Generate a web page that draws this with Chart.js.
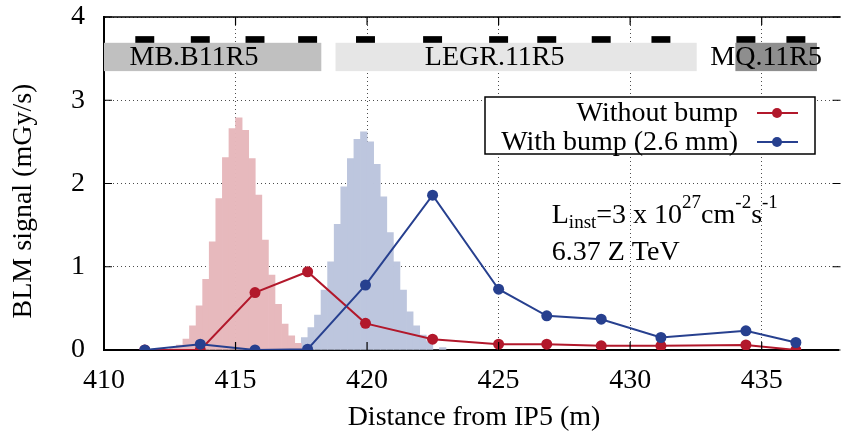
<!DOCTYPE html>
<html>
<head>
<meta charset="utf-8">
<script src="https://cdn.jsdelivr.net/npm/chart.js@4.4.1/dist/chart.umd.min.js"></script>
<style>
  html, body { margin: 0; padding: 0; background: #fff; }
  #wrap { width: 844px; height: 434px; }
</style>
</head>
<body>
<div id="wrap"><canvas id="blmChart"></canvas></div>
<script>
// BLM positions along the ring (m) and measured signals (mGy/s)
const blmPos   = [411.55, 413.66, 415.74, 417.74, 419.94, 422.49, 425.0, 426.83, 428.9, 431.17, 434.4, 436.3];
const noBump   = [0, 0, 0.69, 0.94, 0.32, 0.13, 0.07, 0.07, 0.05, 0.05, 0.06, 0];
const withBump = [0, 0.07, 0, 0.01, 0.78, 1.86, 0.73, 0.41, 0.37, 0.15, 0.23, 0.09];

// impact distributions (bin centres in m, 0.25 m bins)
const histNoBumpX = [412.625, 412.875, 413.125, 413.375, 413.625, 413.875, 414.125, 414.375, 414.625, 414.875,
                     415.125, 415.375, 415.625, 415.875, 416.125, 416.375, 416.625, 416.875, 417.125, 417.375];
const histNoBumpY = [0.03, 0.06, 0.13, 0.29, 0.53, 0.85, 1.30, 1.82, 2.31, 2.66,
                     2.79, 2.64, 2.30, 1.86, 1.32, 0.90, 0.55, 0.31, 0.17, 0.08];
const histBumpX = [417.375, 417.625, 417.875, 418.125, 418.375, 418.625, 418.875, 419.125, 419.375, 419.625,
                   419.875, 420.125, 420.375, 420.625, 420.875, 421.125, 421.375, 421.625, 421.875, 422.125,
                   422.375, 422.625, 422.875];
const histBumpY = [0.07, 0.15, 0.27, 0.42, 0.72, 1.06, 1.51, 1.96, 2.30, 2.53,
                   2.62, 2.50, 2.23, 1.84, 1.41, 1.06, 0.72, 0.46, 0.29, 0.18,
                   0.10, 0, 0.03];

// magnet elements (m)
const elemNames = ['MB.B11R5', 'LEGR.11R5', 'MQ.11R5'];
const elemStart = [408.5, 418.8, 434.0];
const elemEnd   = [418.26, 432.53, 437.1];

const xTicks = [410, 415, 420, 425, 430, 435];
const yTicks = [0, 1, 2, 3, 4];

const FONT = '"Liberation Serif", "Times New Roman", serif';
const RED = '#b2182b';
const BLUE = '#27408f';

const pts = (xs, ys) => xs.map((x, i) => ({ x: x, y: ys[i] }));

function noPadding(s) {
    s.paddingTop = 0; s.paddingBottom = 0;
    s.paddingLeft = 0; s.paddingRight = 0;
}

// gnuplot-like frame, inward ticks, element boxes, legend and label
const decorations = {
    id: 'decorations',
    afterDraw(chart) {
        const ctx = chart.ctx;
        const a = chart.chartArea;
        const xs = chart.scales.x, ys = chart.scales.y;
        const right = a.right + 2;  // right frame sits just past the canvas edge

        // magnet boxes + BLM markers
        ctx.save();
        ctx.beginPath();
        ctx.rect(a.left, a.top, a.right - a.left, a.bottom - a.top);
        ctx.clip();
        const boxColors = ['#c0c0c0', '#e6e6e6', '#8e8e8e'];
        const labelAt = [413.42, 424.85, 435.17];
        const y1 = ys.getPixelForValue(3.69), y2 = ys.getPixelForValue(3.35);
        elemNames.forEach((name, i) => {
            const x1 = xs.getPixelForValue(elemStart[i]);
            const x2 = xs.getPixelForValue(elemEnd[i]);
            ctx.fillStyle = boxColors[i];
            ctx.fillRect(x1, y1, x2 - x1, y2 - y1);
        });
        ctx.fillStyle = '#000';
        const d1 = ys.getPixelForValue(3.77);
        blmPos.forEach(p => {
            const x1 = xs.getPixelForValue(p - 0.36);
            const x2 = xs.getPixelForValue(p + 0.36);
            ctx.fillRect(x1, d1, x2 - x1, y1 - d1);
        });
        ctx.restore();

        ctx.save();
        ctx.fillStyle = '#000';
        ctx.font = '28px ' + FONT;
        ctx.textAlign = 'center';
        ctx.textBaseline = 'alphabetic';
        elemNames.forEach((name, i) => {
            ctx.fillText(name, xs.getPixelForValue(labelAt[i]), y2 - 6);
        });
        ctx.restore();

        // frame
        ctx.save();
        ctx.strokeStyle = '#000';
        ctx.lineWidth = 1.5;
        ctx.beginPath();
        ctx.moveTo(a.left, a.top);
        ctx.lineTo(right, a.top);
        ctx.stroke();
        ctx.lineWidth = 1.2;
        ctx.beginPath();
        xTicks.forEach(v => {
            const x = xs.getPixelForValue(v);
            ctx.moveTo(x, a.bottom); ctx.lineTo(x, a.bottom - 8);
            ctx.moveTo(x, a.top); ctx.lineTo(x, a.top + 8);
        });
        yTicks.forEach(v => {
            const y = ys.getPixelForValue(v);
            ctx.moveTo(a.left, y); ctx.lineTo(a.left + 8, y);
            ctx.moveTo(right, y); ctx.lineTo(right - 8, y);
        });
        ctx.stroke();
        ctx.restore();

        // legend
        ctx.save();
        ctx.fillStyle = '#fff';
        ctx.fillRect(485, 97, 330, 57);
        ctx.strokeStyle = '#000';
        ctx.lineWidth = 1.5;
        ctx.strokeRect(485, 97, 330, 57);
        ctx.font = '28px ' + FONT;
        ctx.textAlign = 'right';
        ctx.textBaseline = 'middle';
        const rows = [chart.data.datasets[1], chart.data.datasets[0]];
        rows.forEach((ds, i) => {
            const y = 113 + i * 29;
            ctx.fillStyle = '#000';
            ctx.fillText(ds.label, 738, y + 1);
            ctx.strokeStyle = ds.borderColor;
            ctx.lineWidth = 2;
            ctx.beginPath();
            ctx.moveTo(757, y); ctx.lineTo(798, y);
            ctx.stroke();
            ctx.fillStyle = ds.borderColor;
            ctx.beginPath();
            ctx.arc(777, y, 5, 0, Math.PI * 2);
            ctx.fill();
        });
        ctx.restore();

        // luminosity / energy label
        ctx.save();
        ctx.fillStyle = '#000';
        ctx.textAlign = 'left';
        ctx.textBaseline = 'alphabetic';
        const parts = [['L', 0], ['inst', -1], ['=3 x 10', 0], ['27', 1], ['cm', 0], ['-2', 1], ['s', 0], ['-1', 1]];
        let x = xs.getPixelForValue(427.02);
        const base = ys.getPixelForValue(1.525);
        parts.forEach(([t, s]) => {
            ctx.font = (s === 0 ? 28 : 19) + 'px ' + FONT;
            const dy = s === 0 ? 0 : (s > 0 ? -15 : 5);
            ctx.fillText(t, x, base + dy);
            x += ctx.measureText(t).width;
        });
        ctx.font = '28px ' + FONT;
        ctx.fillText('6.37 Z TeV', xs.getPixelForValue(427.02), ys.getPixelForValue(1.08));
        ctx.restore();

        // axis titles
        ctx.save();
        ctx.fillStyle = '#000';
        ctx.font = '28px ' + FONT;
        ctx.textAlign = 'center';
        ctx.textBaseline = 'alphabetic';
        ctx.fillText('Distance from IP5 (m)', 474, 425);
        ctx.translate(31, 201);
        ctx.rotate(-Math.PI / 2);
        ctx.fillText('BLM signal (mGy/s)', 0, 0);
        ctx.restore();
    }
};

const gridColor = 'rgba(0,0,0,0.7)';

new Chart(document.getElementById('blmChart'), {
    data: {
        datasets: [
            {
                type: 'line',
                label: 'With bump (2.6 mm)',
                data: pts(blmPos, withBump),
                borderColor: BLUE,
                backgroundColor: BLUE,
                borderWidth: 2,
                pointRadius: 5.5,
                pointBorderWidth: 0,
                tension: 0
            },
            {
                type: 'line',
                label: 'Without bump',
                data: pts(blmPos, noBump),
                borderColor: RED,
                backgroundColor: RED,
                borderWidth: 2,
                pointRadius: 5.5,
                pointBorderWidth: 0,
                tension: 0
            },
            {
                type: 'bar',
                label: 'impact without bump',
                data: pts(histNoBumpX, histNoBumpY),
                backgroundColor: '#e7b9bd',
                borderWidth: 0,
                grouped: false,
                barPercentage: 1,
                categoryPercentage: 1
            },
            {
                type: 'bar',
                label: 'impact with bump',
                data: pts(histBumpX, histBumpY),
                backgroundColor: '#bdc6de',
                borderWidth: 0,
                grouped: false,
                barPercentage: 1,
                categoryPercentage: 1
            }
        ]
    },
    options: {
        responsive: true,
        maintainAspectRatio: false,
        animation: false,
        layout: { padding: { top: 17, right: 0, left: 0, bottom: 0 } },
        plugins: {
            legend: { display: false },
            tooltip: { enabled: false }
        },
        scales: {
            x: {
                type: 'linear',
                min: 410,
                max: 437.92,
                offset: false,
                afterFit(s) { s.height = 84; noPadding(s); },
                ticks: {
                    stepSize: 5,
                    includeBounds: false,
                    padding: 14,
                    color: '#000',
                    font: { family: FONT, size: 28 }
                },
                grid: { offset: false, drawTicks: false, color: gridColor, lineWidth: 1 },
                border: { display: true, color: '#000', width: 2, dash: [1, 3] }
            },
            y: {
                type: 'linear',
                min: 0,
                max: 4,
                afterFit(s) { s.width = 104; noPadding(s); },
                ticks: {
                    stepSize: 1,
                    padding: 19,
                    color: '#000',
                    font: { family: FONT, size: 28 }
                },
                grid: { drawTicks: false, color: gridColor, lineWidth: 1 },
                border: { display: true, color: '#000', width: 2, dash: [1, 3] }
            }
        }
    },
    plugins: [decorations]
});
</script>
</body>
</html>
